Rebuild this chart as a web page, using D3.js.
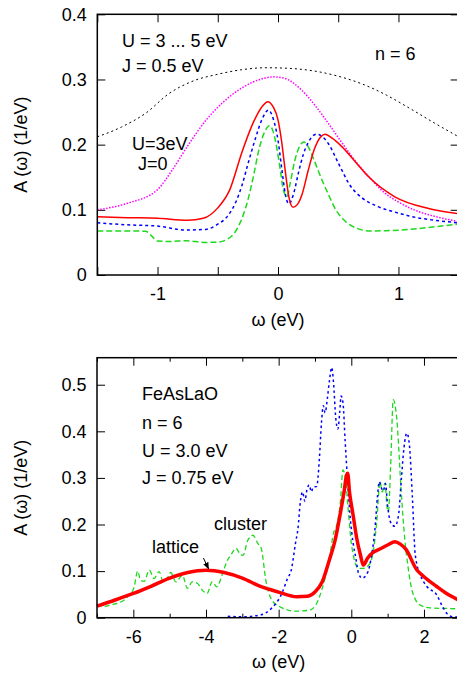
<!DOCTYPE html>
<html>
<head>
<meta charset="utf-8">
<script src="https://cdn.jsdelivr.net/npm/d3@7"></script>
<style>
  body { margin: 0; background: #fff; }
  svg { display: block; font-family: "Liberation Sans", Arial, sans-serif; }
</style>
</head>
<body>
<svg width="457" height="677"></svg>
<script>
// ---- top panel data: [omega, A] ----
const topXTicks = [-1.5, -1, -0.5, 0, 0.5, 1, 1.5]
const topXLabels = [-1, 0, 1]
const topYTicks = [0, 0.1, 0.2, 0.3, 0.4]

const topBlack = [[-1.5,0.212],[-1.3,0.227],[-1.1,0.248],[-0.9,0.279],[-0.7,0.298],[-0.5,0.308],[-0.3,0.315],
  [-0.1,0.318],[0.1,0.317],[0.3,0.313],[0.5,0.305],[0.7,0.293],[0.9,0.276],[1.1,0.255],[1.3,0.233],[1.5,0.212]]
const topMagenta = [[-1.5,0.100],[-1.25,0.110],[-1.0,0.131],[-0.875,0.162],[-0.75,0.198],[-0.6,0.237],[-0.45,0.266],
  [-0.3,0.287],[-0.15,0.300],[-0.04,0.304],[0.05,0.302],[0.2,0.283],[0.3,0.262],[0.42,0.232],[0.55,0.198],
  [0.65,0.173],[0.75,0.152],[0.86,0.130],[1.0,0.112],[1.13,0.100],[1.3,0.090],[1.5,0.082]]
const topRed = [[-1.5,0.0895],[-1.25,0.088],[-1.0,0.087],[-0.75,0.084],[-0.62,0.087],[-0.5,0.103],[-0.4,0.131],
  [-0.3,0.188],[-0.2,0.236],[-0.13,0.259],[-0.085,0.266],[-0.04,0.258],[0,0.238],[0.03,0.205],[0.06,0.160],
  [0.09,0.120],[0.125,0.104],[0.16,0.108],[0.2,0.124],[0.25,0.160],[0.3,0.192],[0.35,0.211],[0.39,0.216],
  [0.45,0.210],[0.53,0.197],[0.65,0.172],[0.75,0.151],[0.97,0.120],[1.25,0.102],[1.5,0.094]]
const topBlue = [[-1.5,0.080],[-1.25,0.077],[-1.0,0.075],[-0.76,0.069],[-0.6,0.070],[-0.5,0.078],[-0.42,0.09],
  [-0.35,0.112],[-0.3,0.137],[-0.25,0.170],[-0.19,0.208],[-0.13,0.240],[-0.08,0.253],[-0.04,0.240],[0,0.207],
  [0.03,0.165],[0.06,0.125],[0.09,0.109],[0.13,0.125],[0.17,0.157],[0.21,0.185],[0.25,0.203],[0.32,0.216],
  [0.37,0.212],[0.42,0.201],[0.5,0.172],[0.6,0.137],[0.7,0.118],[0.83,0.105],[1.0,0.095],[1.1,0.090],
  [1.3,0.084],[1.5,0.080]]
const topGreen = [[-1.5,0.0675],[-1.25,0.0675],[-1.1,0.0672],[-1.05,0.060],[-1.0,0.052],[-0.9,0.0515],
  [-0.76,0.0525],[-0.6,0.050],[-0.5,0.0505],[-0.42,0.055],[-0.33,0.074],[-0.25,0.115],[-0.2,0.155],
  [-0.165,0.187],[-0.11,0.220],[-0.07,0.229],[-0.04,0.220],[-0.01,0.195],[0.02,0.160],[0.045,0.130],
  [0.075,0.120],[0.1,0.140],[0.14,0.176],[0.18,0.198],[0.215,0.204],[0.25,0.197],[0.3,0.176],[0.36,0.148],
  [0.415,0.125],[0.48,0.100],[0.55,0.084],[0.65,0.072],[0.77,0.0675],[0.9,0.068],[1.1,0.070],[1.3,0.074],[1.5,0.078]]

// ---- bottom panel data ----
const botXTicks = [-7, -6, -5, -4, -3, -2, -1, 0, 1, 2, 3]
const botXLabels = [-6, -4, -2, 0, 2]
const botYTicks = [0, 0.1, 0.2, 0.3, 0.4, 0.5]

const botRed = [[-7,0.025],[-6.5,0.038],[-6,0.052],[-5.5,0.068],[-5,0.085],[-4.5,0.097],[-4,0.102],[-3.5,0.097],
  [-3,0.085],[-2.5,0.067],[-2,0.055],[-1.5,0.045],[-1.2,0.046],[-1.0,0.055],[-0.8,0.077],[-0.6,0.125],
  [-0.45,0.165],[-0.3,0.225],[-0.2,0.27],[-0.13,0.306],[-0.1,0.31],[-0.05,0.27],[0.05,0.22],[0.15,0.17],
  [0.25,0.135],[0.33,0.113],[0.45,0.128],[0.6,0.140],[0.8,0.148],[1.0,0.156],[1.2,0.163],[1.35,0.158],
  [1.5,0.147],[1.8,0.103],[2.0,0.088],[2.35,0.067],[2.6,0.053],[3.0,0.036]]
const botBlue = [[-3.4,0.003],[-3.0,0.002],[-2.5,0.006],[-2.2,0.02],[-1.93,0.049],[-1.75,0.085],[-1.66,0.1],
  [-1.53,0.163],[-1.47,0.19],[-1.4,0.25],[-1.34,0.27],[-1.28,0.25],[-1.22,0.275],[-1.16,0.285],[-1.1,0.27],
  [-1.05,0.28],[-0.95,0.282],[-0.88,0.34],[-0.82,0.42],[-0.77,0.455],[-0.72,0.44],[-0.66,0.47],[-0.6,0.51],
  [-0.54,0.537],[-0.49,0.505],[-0.43,0.43],[-0.37,0.405],[-0.32,0.44],[-0.28,0.476],[-0.23,0.462],
  [-0.17,0.38],[-0.1,0.29],[-0.03,0.215],[0.05,0.16],[0.12,0.13],[0.2,0.095],[0.3,0.085],[0.45,0.097],
  [0.55,0.13],[0.65,0.19],[0.72,0.26],[0.77,0.292],[0.83,0.278],[0.88,0.272],[0.94,0.288],[1.0,0.24],
  [1.08,0.205],[1.2,0.196],[1.3,0.22],[1.38,0.3],[1.45,0.365],[1.53,0.396],[1.6,0.37],[1.68,0.26],
  [1.76,0.135],[1.9,0.092],[2.08,0.067],[2.35,0.049],[2.49,0.027],[2.63,0.009],[2.8,0.002],[3.0,0.001]]
const botGreen = [[-7.0,0.028],[-6.8,0.024],[-6.6,0.028],[-6.4,0.032],[-6.25,0.038],[-6.1,0.05],[-5.98,0.065],
  [-5.88,0.1],[-5.8,0.08],[-5.7,0.078],[-5.56,0.102],[-5.43,0.084],[-5.29,0.099],[-5.18,0.078],[-5.1,0.08],
  [-4.97,0.097],[-4.83,0.077],[-4.65,0.091],[-4.51,0.063],[-4.38,0.077],[-4.24,0.074],[-4.1,0.059],
  [-3.97,0.052],[-3.83,0.077],[-3.7,0.066],[-3.56,0.091],[-3.43,0.12],[-3.32,0.134],[-3.17,0.149],
  [-3.05,0.135],[-2.98,0.134],[-2.85,0.166],[-2.71,0.177],[-2.57,0.159],[-2.48,0.149],[-2.35,0.079],
  [-2.21,0.041],[-1.98,0.024],[-1.53,0.014],[-1.16,0.016],[-0.98,0.027],[-0.8,0.063],[-0.62,0.12],
  [-0.48,0.184],[-0.4,0.199],[-0.3,0.249],[-0.23,0.317],[-0.16,0.299],[-0.09,0.235],[0.02,0.149],
  [0.2,0.106],[0.33,0.106],[0.5,0.115],[0.6,0.14],[0.7,0.206],[0.79,0.292],[0.85,0.27],[0.93,0.289],
  [0.98,0.24],[1.02,0.227],[1.08,0.32],[1.155,0.468],[1.25,0.428],[1.38,0.263],[1.47,0.17],[1.56,0.11],
  [1.68,0.056],[1.9,0.027],[2.17,0.021],[2.9,0.019],[3.0,0.018]]

const svg = d3.select("svg")
const fontSize = 18

function drawPanel(p) {
    const x = d3.scaleLinear().domain(p.xDomain).range([p.left, p.right])
    const y = d3.scaleLinear().domain(p.yDomain).range([p.bottom, p.top])
    const g = svg.append("g")

    // bottom axis with labels
    const bAxis = g.append("g")
        .attr("transform", `translate(0,${p.bottom})`)
        .call(d3.axisBottom(x).tickValues(p.xTicks).tickSizeInner(-8).tickSizeOuter(0).tickPadding(12.5)
            .tickFormat(d => p.xLabels.includes(d) ? String(d) : ""))
    bAxis.selectAll(".tick line").attr("y2", d => p.minor && !p.xLabels.includes(d) ? -4 : -8)
    const tAxis = g.append("g")
        .attr("transform", `translate(0,${p.top})`)
        .call(d3.axisTop(x).tickValues(p.xTicks).tickSizeInner(-8).tickSizeOuter(0).tickFormat(""))
    tAxis.selectAll(".tick line").attr("y2", d => p.minor && !p.xLabels.includes(d) ? 4 : 8)
    g.append("g")
        .attr("transform", `translate(${p.left},0)`)
        .call(d3.axisLeft(y).tickValues(p.yTicks).tickSizeInner(-8).tickSizeOuter(0).tickPadding(10.5)
            .tickFormat(d => String(d)))
    g.append("g")
        .attr("transform", `translate(${p.right},0)`)
        .call(d3.axisRight(y).tickValues(p.yTicks).tickSizeInner(-8).tickSizeOuter(0).tickFormat(""))

    g.selectAll(".domain").remove()
    g.selectAll(".tick line").attr("stroke", "#000").attr("stroke-width", 1)
    g.selectAll(".tick text").attr("font-size", fontSize).attr("font-family", "Liberation Sans, Arial, sans-serif")
        .attr("fill", "#000")

    const line = d3.line().x(d => x(d[0])).y(d => y(d[1])).curve(d3.curveMonotoneX)
    p.series.forEach(s => {
        g.append("path")
            .datum(s.data)
            .attr("d", line)
            .attr("fill", "none")
            .attr("stroke", s.color)
            .attr("stroke-width", s.width)
            .attr("stroke-dasharray", s.dash)
            .attr("stroke-linejoin", "round")
    })

    g.append("rect")
        .attr("x", p.left).attr("y", p.top)
        .attr("width", p.right - p.left).attr("height", p.bottom - p.top)
        .attr("fill", "none").attr("stroke", "#000").attr("stroke-width", 1.5)

    g.append("text")
        .attr("x", (p.left + p.right) / 2).attr("y", p.xLabelY)
        .attr("text-anchor", "middle").attr("font-size", fontSize)
        .text("ω (eV)")
    g.append("text")
        .attr("transform", `translate(26.5,${(p.top + p.bottom) / 2}) rotate(-90)`)
        .attr("text-anchor", "middle").attr("font-size", fontSize)
        .text("A (ω) (1/eV)")

    p.notes.forEach(n => {
        g.append("text").attr("x", n[1]).attr("y", n[2]).attr("font-size", fontSize).text(n[0])
    })
    return { x, y, g }
}

drawPanel({
    left: 97.3, right: 458.7, top: 14.3, bottom: 275,
    xDomain: [-1.5, 1.5], yDomain: [0, 0.4],
    xTicks: topXTicks, xLabels: topXLabels, yTicks: topYTicks, minor: false,
    xLabelY: 326,
    series: [
        { data: topBlack, color: "#000", width: 1, dash: "2,3" },
        { data: topMagenta, color: "#ff00ff", width: 1.5, dash: "1.5,1.5" },
        { data: topGreen, color: "#1ed81e", width: 1.5, dash: "6,3" },
        { data: topBlue, color: "#0000ff", width: 1.5, dash: "3,3" },
        { data: topRed, color: "#ff0000", width: 1.5, dash: null }
    ],
    notes: [
        ["U = 3 ... 5 eV", 122, 47],
        ["J = 0.5 eV", 122, 72],
        ["n = 6", 375, 60],
        ["U=3eV", 132, 150],
        ["J=0", 138, 170]
    ]
})

const bot = drawPanel({
    left: 97, right: 460.3, top: 357.7, bottom: 617.7,
    xDomain: [-7, 3], yDomain: [0, 0.558],
    xTicks: botXTicks, xLabels: botXLabels, yTicks: botYTicks, minor: true,
    xLabelY: 668,
    series: [
        { data: botGreen, color: "#1ed81e", width: 1.3, dash: "5,3" },
        { data: botBlue, color: "#0000ff", width: 1.5, dash: "2.5,3" },
        { data: botRed, color: "#ff0000", width: 3.5, dash: null }
    ],
    notes: [
        ["FeAsLaO", 142, 400],
        ["n = 6", 142, 429],
        ["U = 3.0 eV", 142, 457],
        ["J = 0.75 eV", 142, 484],
        ["lattice", 152, 553],
        ["cluster", 214, 530]
    ]
})

// arrow from "lattice" to the red curve
svg.append("defs").append("marker")
    .attr("id", "head").attr("viewBox", "0 0 10 10").attr("refX", 9).attr("refY", 5)
    .attr("markerWidth", 7).attr("markerHeight", 7).attr("orient", "auto")
    .append("path").attr("d", "M0,1L10,5L0,9Z").attr("fill", "#000")
bot.g.append("line")
    .attr("x1", bot.x(-4.07)).attr("y1", bot.y(0.128))
    .attr("x2", bot.x(-3.93)).attr("y2", bot.y(0.105))
    .attr("stroke", "#000").attr("stroke-width", 1)
    .attr("marker-end", "url(#head)")
</script>
</body>
</html>
